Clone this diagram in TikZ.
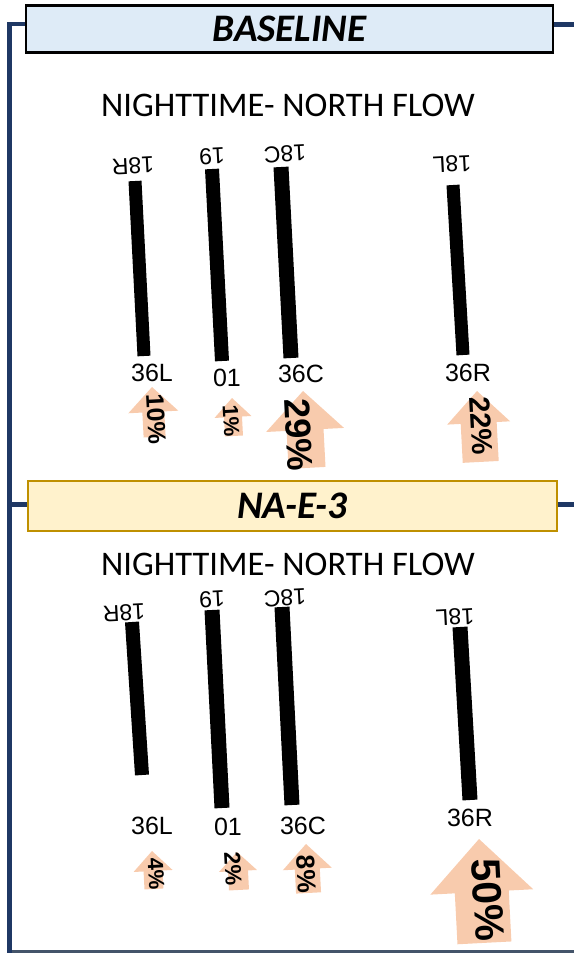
\documentclass[tikz,border=0pt]{standalone}
\usepackage{fontspec}
\setmainfont{Liberation Sans}
\newfontfamily\calfont{Carlito}
\definecolor{navy}{HTML}{1F3864}
\definecolor{slate}{HTML}{44546A}
\definecolor{peach}{HTML}{F8CBAD}
\definecolor{boxblue}{HTML}{DEEBF7}
\definecolor{boxgold}{HTML}{FFF2CC}
\definecolor{gold}{HTML}{BF9000}
\newcommand\fs[1]{\fontsize{#1}{#1}\selectfont}
\newcommand\uparr[6]{%
  \begin{scope}[shift={(#1,#2)},rotate=3]
    \fill[peach] (0,0) -- (#5/2,#4) -- (#6/2,#4) -- (#6/2,#3) -- (-#6/2,#3) -- (-#6/2,#4) -- (-#5/2,#4) -- cycle;
  \end{scope}}
\begin{document}
\begin{tikzpicture}[x=1pt,y=-1pt,
  frameline/.style={draw=navy,line width=4.5pt},
  rwy/.style={line width=14pt,draw=black},
  rlab/.style={font=\fs{25},inner sep=0pt},
  toplab/.style={font=\fs{23},inner sep=0pt,rotate=183},
  pct/.style={inner sep=0pt,rotate=-87},
  titlebox/.style={minimum width=527pt,minimum height=47pt,line width=2.5pt,inner sep=0pt,font=\calfont\bfseries\itshape\fs{39}},
  flowtitle/.style={font=\calfont\fs{34.5},inner sep=0pt}]
\useasboundingbox (0,0) rectangle (574,953);

% frame
\coordinate (ftop) at (9.5,24);
\coordinate (fbot) at (9.5,953);
\coordinate (fmid) at (9.5,504.5);
\coordinate (rtop) at (574,24.5);
\coordinate (rmid) at (574,504.5);
\coordinate (bl) at (7,951.5);
\coordinate (br) at (574,951.5);
\draw[slate,line width=2.5pt] (bl) -- (br);
\draw[frameline] (fbot) -- (ftop) -- (26,24);
\draw[frameline] (fmid) -- (28,504.5);
\draw[frameline] (553,24.5) -- (rtop);
\draw[frameline] (557,504.5) -- (rmid);

% boxes
\node[titlebox,draw=black,fill=boxblue] (base) at (289.5,29) {BASELINE};
\node[titlebox,draw=gold,fill=boxgold,minimum width=529pt,minimum height=50pt] (nae) at (292.5,506) {NA-E-3};

% ===== BASELINE =====
\node[flowtitle] (t1) at (288,105) {NIGHTTIME- NORTH FLOW};
\coordinate (a1) at (135,181); \coordinate (a2) at (144,356);
\coordinate (b1) at (212,169); \coordinate (b2) at (222,361);
\coordinate (c1) at (281,167); \coordinate (c2) at (291,358);
\coordinate (d1) at (453,185); \coordinate (d2) at (463,355);
\draw[rwy,line width=13pt] (a1) -- (a2);
\draw[rwy] (b1) -- (b2);
\draw[rwy,line width=15pt] (c1) -- (c2);
\draw[rwy,line width=13pt] (d1) -- (d2);
\node[toplab] (la1) at (133,166) {18R};
\node[toplab] (lb1) at (212,156) {19};
\node[toplab] (lc1) at (285,154) {18C};
\node[toplab] (ld1) at (452,164) {18L};
\node[rlab] (la2) at (152,373) {36L};
\node[rlab] (lb2) at (227,378) {01};
\node[rlab] (lc2) at (301,374) {36C};
\node[rlab] (ld2) at (468,373) {36R};

\uparr{152}{387}{50}{25}{50}{22}
\uparr{232}{398}{38}{19}{37}{18}
\uparr{303}{391}{77}{39}{78}{37}
\uparr{477}{391}{71}{32}{63}{36}
\node[pct,font=\bfseries\fs{25}] (p1) at (156,419) {10\%};
\node[pct,font=\bfseries\fs{22}] (p2) at (231,421) {1\%};
\node[pct,font=\bfseries\fs{36}] (p3) at (299,435) {29\%};
\node[pct,font=\bfseries\fs{29}] (p4) at (481,426) {22\%};

% ===== NA-E-3 =====
\node[flowtitle] (t2) at (288,564) {NIGHTTIME- NORTH FLOW};
\coordinate (e1) at (132,622); \coordinate (e2) at (142,775);
\coordinate (f1) at (212,610); \coordinate (f2) at (222,808);
\coordinate (g1) at (282,607); \coordinate (g2) at (292,805);
\coordinate (h1) at (460,627); \coordinate (h2) at (470,800);
\draw[rwy] (e1) -- (e2);
\draw[rwy,line width=15pt] (f1) -- (f2);
\draw[rwy,line width=15pt] (g1) -- (g2);
\draw[rwy,line width=15pt] (h1) -- (h2);
\node[toplab] (le1) at (124,613) {18R};
\node[toplab] (lf1) at (212,599) {19};
\node[toplab] (lg1) at (285,598) {18C};
\node[toplab] (lh1) at (455,617) {18L};
\node[rlab] (le2) at (152,826) {36L};
\node[rlab] (lf2) at (228,827) {01};
\node[rlab] (lg2) at (303,826) {36C};
\node[rlab] (lh2) at (470,818) {36R};

\uparr{152}{851}{38}{20}{39}{19}
\uparr{237}{852}{38}{19}{38}{20}
\uparr{306}{844}{49}{25}{49}{25}
\uparr{479}{839}{104}{53}{103}{54}
\node[pct,font=\bfseries\fs{22}] (p5) at (156,874) {4\%};
\node[pct,font=\bfseries\fs{23}] (p6) at (233,869) {2\%};
\node[pct,font=\bfseries\fs{26}] (p7) at (306,874) {8\%};
\node[pct,font=\bfseries\fs{41}] (p8) at (488,900) {50\%};
\end{tikzpicture}
\end{document}
